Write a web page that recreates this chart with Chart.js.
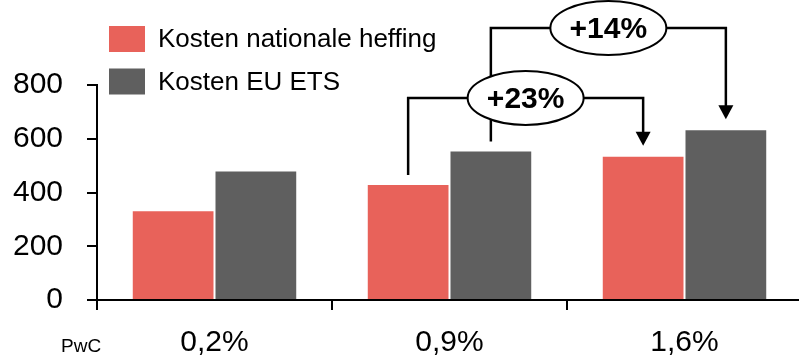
<!DOCTYPE html>
<html>
<head>
<meta charset="utf-8">
<script src="https://cdn.jsdelivr.net/npm/chart.js@4"></script>
<style>
  html, body { margin: 0; padding: 0; background: #fff; overflow: hidden; }
  #wrap { width: 802px; height: 356px; position: relative; }
</style>
</head>
<body>
<div id="wrap"><canvas id="chart"></canvas></div>
<script>
const categories = ["0,2%", "0,9%", "1,6%"];
const seriesNames = ["Kosten nationale heffing", "Kosten EU ETS"];
const nationaleHeffing = [330, 428, 533];
const euEts = [478, 553, 632];
const yTicks = [0, 200, 400, 600, 800];
const bracketLabels = ["+14%", "+23%"];
const sourceLabel = "PwC";

const FONT = "'Liberation Sans', Arial, sans-serif";
const RED = "#E8625A";
const GREY = "#5F5F5F";

// legend drawn as a vertical list at top left
const legendPlugin = {
  id: "sideLegend",
  afterDraw(chart) {
    const ctx = chart.ctx;
    ctx.save();
    ctx.font = "26px " + FONT;
    ctx.textBaseline = "middle";
    chart.data.datasets.forEach((ds, i) => {
      const cy = 39 + i * 42.5;
      ctx.fillStyle = ds.backgroundColor;
      ctx.fillRect(109, cy - 13, 36, 26);
      ctx.fillStyle = "#000";
      ctx.fillText(ds.label, 158, cy + 1);
    });
    ctx.font = "19px " + FONT;
    ctx.textBaseline = "alphabetic";
    ctx.fillText(sourceLabel, 61, 352);
    ctx.restore();
  }
};

// growth brackets between bars
const bracketPlugin = {
  id: "brackets",
  afterDraw(chart, args, opts) {
    const ctx = chart.ctx;
    const ys = chart.scales.y;
    const items = opts.items.map(b => {
      const a = chart.getDatasetMeta(b.from[0]).data[b.from[1]];
      const c = chart.getDatasetMeta(b.to[0]).data[b.to[1]];
      return { a, c, ly: ys.getPixelForValue(b.level), label: b.label };
    });
    ctx.save();
    ctx.strokeStyle = "#000";
    ctx.fillStyle = "#000";
    ctx.lineWidth = 2.5;
    items.forEach(({ a, c, ly }) => {
      const tipY = c.y - 11;
      ctx.beginPath();
      ctx.moveTo(a.x, a.y - 10);
      ctx.lineTo(a.x, ly);
      ctx.lineTo(c.x, ly);
      ctx.lineTo(c.x, tipY - 12);
      ctx.stroke();
      ctx.beginPath();
      ctx.moveTo(c.x - 7.5, tipY - 14);
      ctx.lineTo(c.x + 7.5, tipY - 14);
      ctx.lineTo(c.x, tipY);
      ctx.closePath();
      ctx.fill();
    });
    items.forEach(({ a, c, ly, label }) => {
      const cx = (a.x + c.x) / 2;
      ctx.beginPath();
      ctx.ellipse(cx, ly, 58, 27, 0, 0, Math.PI * 2);
      ctx.fillStyle = "#fff";
      ctx.fill();
      ctx.lineWidth = 2;
      ctx.stroke();
      ctx.fillStyle = "#000";
      ctx.font = "bold 30px " + FONT;
      ctx.textAlign = "center";
      ctx.textBaseline = "middle";
      ctx.fillText(label, cx, ly + 2);
    });
    ctx.restore();
  }
};

new Chart(document.getElementById("chart"), {
  type: "bar",
  data: {
    labels: categories,
    datasets: [
      { label: seriesNames[0], data: nationaleHeffing, backgroundColor: RED },
      { label: seriesNames[1], data: euEts, backgroundColor: GREY }
    ]
  },
  options: {
    responsive: true,
    maintainAspectRatio: false,
    animation: false,
    layout: { padding: { top: 85, right: 0, left: 0, bottom: 0 } },
    datasets: { bar: { categoryPercentage: 0.704, barPercentage: 0.976, borderWidth: 0 } },
    plugins: {
      legend: { display: false },
      tooltip: { enabled: false },
      brackets: {
        items: [
          { label: bracketLabels[0], from: [1, 1], to: [1, 2], level: 1012 },
          { label: bracketLabels[1], from: [0, 1], to: [0, 2], level: 752 }
        ]
      }
    },
    scales: {
      x: {
        offset: true,
        grid: { offset: true, drawOnChartArea: false, drawTicks: true, tickLength: 10, color: "#000", lineWidth: 2 },
        border: { color: "#000", width: 2 },
        ticks: { color: "#000", font: { family: FONT, size: 30 }, padding: 15 },
        afterFit(s) { s.height = 56; }
      },
      y: {
        min: 0,
        max: 800,
        afterBuildTicks(s) { s.ticks = yTicks.map(v => ({ value: v })); },
        grid: { drawOnChartArea: false, drawTicks: true, tickLength: 10, color: "#000", lineWidth: 2 },
        border: { color: "#000", width: 2 },
        ticks: { color: "#000", font: { family: FONT, size: 30 }, padding: 24 },
        afterFit(s) { s.width = 97; }
      }
    }
  },
  plugins: [legendPlugin, bracketPlugin]
});
</script>
</body>
</html>
